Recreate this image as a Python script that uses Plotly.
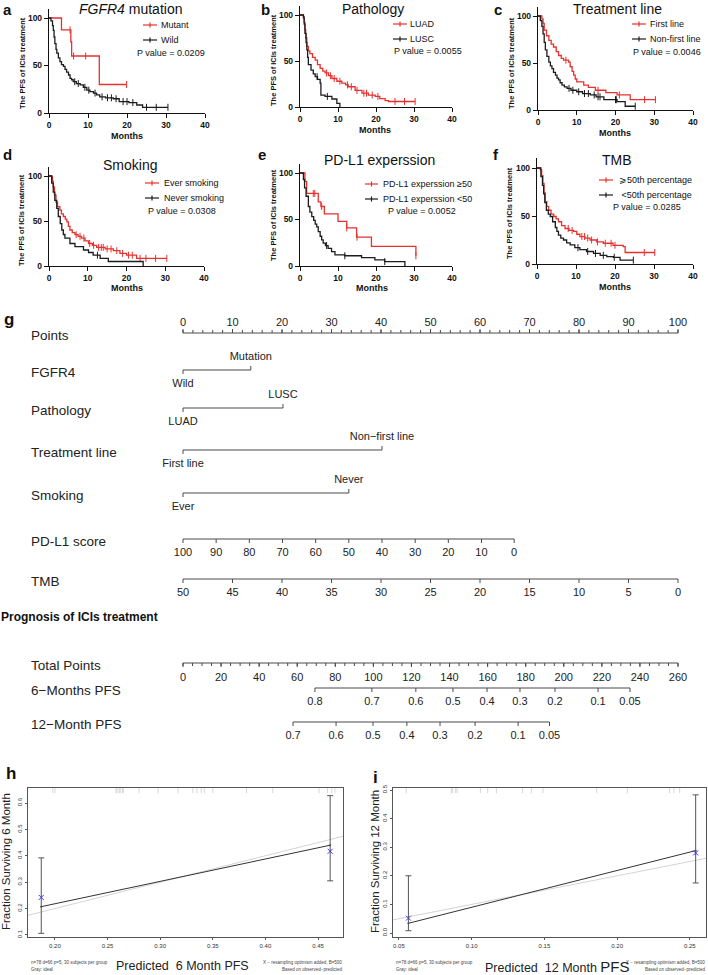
import plotly.graph_objects as go

W, H = 708, 975
RED = "#e8312f"
BLK = "#1c1c1c"
FONT = "Liberation Sans, Arial, sans-serif"
NARROW = "Liberation Sans Narrow, Arial Narrow, Liberation Sans, Arial, sans-serif"

# ---------------- Kaplan-Meier data (months, % PFS) ----------------
# a: FGFR4 mutation
a_mut_t = [0, 3.2, 5.6, 5.8, 12.9]
a_mut_s = [100, 87.5, 75, 60, 30]
a_mut_end = 19.9
a_mut_cens = [5.4, 6.3, 9.4, 19.9]
a_wild_t = [0, 0.5, 0.9, 1.1, 1.3, 1.5, 1.8, 2.0, 2.4, 2.8, 3.2, 3.7, 4.1, 4.5, 5.0, 5.4, 5.8, 6.2,
            7.0, 8.0, 8.8, 9.7, 10.5, 11.4, 12.2, 13.0, 14.5, 16.5, 18.0, 20.5, 22.5, 24.0]
a_wild_s = [100, 97, 92, 87, 80, 73, 67, 63, 58, 54, 51, 49, 46, 43, 40, 36.5, 35, 33,
            31, 29.5, 27, 24, 22.5, 21, 19, 17, 16, 15, 12, 11, 8.4, 6]
a_wild_end = 30.5
a_wild_cens = [6.6, 7.5, 9.2, 10.2, 11.8, 13.6, 15, 16, 17.2, 19, 20, 21.5, 25, 27.5, 30.5]

# b: Pathology
b_luad_t = [0, 0.9, 1.1, 1.3, 1.5, 1.8, 2.2, 2.6, 3.3, 4.0, 4.6, 5.3, 6.0, 6.6, 7.5, 8.4, 9.7,
            11.0, 12.0, 12.7, 14.5, 16.3, 18.0, 19.8, 21.0, 22.4, 23.3]
b_luad_s = [100, 96, 92, 84, 75, 66, 61, 58, 54, 51, 46, 42, 39, 37, 34, 31, 28,
            26, 24, 22, 18, 15, 13, 11.5, 9, 7, 6]
b_luad_end = 30.3
b_luad_cens = [7, 8, 9, 10.5, 12.5, 13.5, 15, 16.8, 17.5, 19, 20.5, 25, 27.5, 30.3]
b_lusc_t = [0, 0.9, 1.1, 1.3, 1.6, 1.8, 2.0, 2.2, 2.9, 3.5, 4.0, 4.6, 5.3, 5.5, 6.6, 8.4, 9.7, 10.5]
b_lusc_s = [100, 98, 90, 80, 70, 62, 54, 46, 40, 36, 33, 30, 26, 13, 11.5, 8.7, 4, 0]
b_lusc_end = 10.5
b_lusc_cens = [4.5, 7.2]

# c: Treatment line
c_first_t = [0, 1.0, 1.3, 1.6, 2.2, 2.8, 3.4, 4.0, 4.7, 5.3, 6.0, 6.6, 7.9, 8.3, 8.8, 9.2, 9.6,
             10.0, 11.8, 13.0, 14.8, 17.5, 20.4, 23.8]
c_first_s = [100, 97, 92, 85, 79, 74, 70, 67, 62, 58, 55, 53, 51, 46, 41, 37, 33,
             30, 26.5, 24, 21, 18.5, 16, 11]
c_first_end = 30.3
c_first_cens = [7.2, 15.5, 21, 27.5, 30.3]
c_non_t = [0, 0.6, 1.0, 1.3, 1.6, 1.9, 2.3, 2.8, 3.2, 3.6, 4.0, 4.5, 4.9, 5.3, 5.7, 6.2, 6.8,
           7.5, 8.5, 10.0, 11.5, 13.5, 15.0, 17.0, 20.4, 22.5]
c_non_s = [100, 95, 89, 81, 72, 64, 57, 51, 47, 44, 40, 37, 34, 32, 29, 26.5, 24.5,
           23, 21, 19.4, 17.5, 16, 14, 11, 9, 4]
c_non_end = 25.1
c_non_cens = [8, 9, 10.5, 12, 13, 14.5, 15.5, 16, 20, 20.2, 25.1]

# d: Smoking
d_ever_t = [0, 0.7, 0.9, 1.1, 1.4, 1.8, 2.2, 2.8, 3.2, 3.7, 4.2, 4.6, 5.0, 5.4, 6.0, 6.7, 7.5,
            8.4, 9.3, 10.2, 11.2, 12.3, 14.5, 16.6, 18.3, 20.0, 22.6]
d_ever_s = [100, 99, 94, 88, 79, 71, 66, 62, 58, 55, 52, 49, 44, 40, 37, 34.8, 33,
            31, 28, 25, 23, 20.7, 19, 17, 14, 12, 8.5]
d_ever_end = 30.4
d_ever_cens = [7, 8, 9, 10.5, 11.5, 12.8, 13.5, 14, 15, 16, 17.5, 19, 20.5, 21.5, 23.5, 25, 27.5, 30.4]
d_never_t = [0, 0.7, 1.1, 1.5, 2.0, 2.4, 2.9, 3.3, 3.7, 4.1, 5.4, 6.7, 8.9, 10.2, 11.4, 13.2, 15.3, 24.3]
d_never_s = [100, 92, 82, 73, 64, 55, 47, 40, 35, 31, 25, 21.5, 17.8, 15, 12, 8.5, 5, 0]
d_never_end = 24.3
d_never_cens = [12.5]

# e: PD-L1 expression
e_hi_t = [0, 1.3, 1.75, 4.8, 5.5, 6.4, 10.0, 12.3, 14.9, 18.8, 30.5]
e_hi_s = [100, 91, 78, 69, 64, 56, 48, 41, 31, 21, 11]
e_hi_end = 30.5
e_hi_cens = [3.5, 3.9, 5.7, 12.3, 15.0, 30.5]
e_lo_t = [0, 0.9, 1.2, 1.6, 2.2, 2.6, 3.1, 3.6, 4.0, 4.4, 4.8, 5.3, 5.7, 6.1, 6.7, 7.4, 8.3,
          9.2, 11.8, 16.2, 19.7, 22.3, 27.6]
e_lo_s = [100, 93, 84, 75, 64, 58, 53, 49, 45, 42, 37, 32, 28, 24.5, 22, 19, 15.5,
          12, 11, 9, 6.5, 4.7, 0]
e_lo_end = 27.6
e_lo_cens = [7.0, 11.8, 22.3]

# f: TMB
f_hi_t = [0, 0.85, 1.2, 1.5, 1.8, 2.1, 2.5, 3.0, 3.6, 4.3, 4.9, 5.5, 6.3, 7.2, 8.2, 9.4, 10.2,
          11.0, 12.3, 13.6, 15.3, 17.0, 19.5, 22.1, 22.6]
f_hi_s = [100, 98, 92, 84, 74, 65, 60, 56, 52, 49.5, 47, 44, 40, 37, 35, 34, 31,
          28.6, 27, 25, 23, 21.6, 19.5, 18, 12]
f_hi_end = 30.2
f_hi_cens = [8, 9, 11.5, 12.2, 13, 14, 15.5, 17.5, 19, 20, 27.5, 30.2]
f_lo_t = [0, 1.0, 1.4, 1.7, 2.0, 2.4, 2.9, 3.4, 4.0, 4.7, 5.1, 5.5, 6.1, 6.8, 7.6, 8.5, 9.7,
          11.0, 12.7, 14.5, 16.2, 17.9, 19.6, 21.3]
f_lo_s = [100, 91, 82, 73, 64, 56, 52, 49.5, 44, 38, 34, 30, 27, 25, 22, 20, 17,
          15, 13, 11, 9, 7.7, 7, 4]
f_lo_end = 24.7
f_lo_cens = [10.5, 13, 15, 17, 19.8, 24.7]

km_xticks = [0, 10, 20, 30, 40]
km_yticks = [0, 50, 100]

# ---------------- nomogram ----------------
points_major = [0, 10, 20, 30, 40, 50, 60, 70, 80, 90, 100]
points_minor = list(range(0, 101, 2))
fgfr4_levels = ["Wild", "Mutation"]
fgfr4_points = [0, 13.7]
pathology_levels = ["LUAD", "LUSC"]
pathology_points = [0, 20.2]
treatment_levels = ["First line", "Non\u2212first line"]
treatment_points = [0, 40.2]
smoking_levels = ["Ever", "Never"]
smoking_points = [0, 33.5]
pdl1_labels = ["100", "90", "80", "70", "60", "50", "40", "30", "20", "10", "0"]
pdl1_points = [0, 6.7, 13.4, 20.1, 26.8, 33.5, 40.2, 46.9, 53.6, 60.3, 66.9]
tmb_labels = ["50", "45", "40", "35", "30", "25", "20", "15", "10", "5", "0"]
tmb_points = [0, 10, 20, 30, 40, 50, 60, 70, 80, 90, 100]
total_major = [0, 20, 40, 60, 80, 100, 120, 140, 160, 180, 200, 220, 240, 260]
total_minor = list(range(0, 261, 5))
pfs6_labels = ["0.8", "0.7", "0.6", "0.5", "0.4", "0.3", "0.2", "0.1", "0.05"]
pfs6_points = [69.3, 99.2, 122.3, 141.8, 159.7, 177.0, 195.4, 218.0, 234.8]
pfs12_labels = ["0.7", "0.6", "0.5", "0.4", "0.3", "0.2", "0.1", "0.05"]
pfs12_points = [57.8, 80.4, 99.8, 117.6, 135.0, 153.4, 176.0, 192.5]

# ---------------- calibration ----------------
h_pred = [0.187, 0.4615]
h_km = [0.207, 0.440]
h_obs = [0.242, 0.417]
h_lo = [0.106, 0.305]
h_hi = [0.392, 0.628]
h_rug = [0.198, 0.200, 0.258, 0.259, 0.261, 0.262, 0.264, 0.265, 0.280, 0.298, 0.317, 0.331,
         0.335, 0.339, 0.342, 0.350, 0.382, 0.407, 0.451, 0.459, 0.463, 0.466]
i_pred = [0.0565, 0.254]
i_km = [0.034, 0.288]
i_obs = [0.052, 0.280]
i_lo = [0.008, 0.175]
i_hi = [0.200, 0.483]
i_rug = [0.055, 0.086, 0.087, 0.089, 0.090, 0.106, 0.111, 0.117, 0.135, 0.141, 0.149,
         0.186, 0.207, 0.236, 0.239, 0.243]
ideal_line = [0.0, 0.6]


def px(x):
    return x / W


def py(y):
    return 1 - y / H


fig = go.Figure()
annotations = []
shapes = []


def text(x, y, s, size, anchor="center", bold=False, family=FONT, angle=0, color="#111"):
    annotations.append(dict(
        x=px(x), y=py(y), xref="paper", yref="paper", text=s, showarrow=False,
        xanchor=anchor, yanchor="middle", textangle=angle, borderpad=0,
        font=dict(size=size, family=family, color=color, weight="bold" if bold else "normal")))


def step_at(t, s, x):
    v = s[0]
    for ti, si in zip(t, s):
        if ti <= x:
            v = si
    return v


def km_curve(n, t, s, end, cens, color):
    xa = "x" if n == 1 else f"x{n}"
    ya = "y" if n == 1 else f"y{n}"
    fig.add_trace(go.Scatter(x=t + [end], y=s + [s[-1]], mode="lines", xaxis=xa, yaxis=ya,
                             line=dict(color=color, width=1.3, shape="hv"),
                             hoverinfo="skip", showlegend=False))
    fig.add_trace(go.Scatter(x=cens, y=[step_at(t, s, c) for c in cens], mode="markers",
                             xaxis=xa, yaxis=ya,
                             marker=dict(symbol="line-ns", size=5, line=dict(color=color, width=1)),
                             hoverinfo="skip", showlegend=False))


def legend_item(x0, x1, y, color, label, xt):
    shapes.append(dict(type="line", xref="paper", yref="paper", x0=px(x0), x1=px(x1),
                       y0=py(y), y1=py(y), line=dict(color=color, width=1.2)))
    xm = (x0 + x1) / 2
    shapes.append(dict(type="line", xref="paper", yref="paper", x0=px(xm), x1=px(xm),
                       y0=py(y - 2.5), y1=py(y + 2.5), line=dict(color=color, width=1.2)))
    text(xt, y, label, 9, anchor="left")


panels = [
    dict(n=1, x0=49, x1=205, y0=113, y100=18, letter=("a", 7, 10), title=("<i>FGFR4</i> mutation", 130, 9),
         months=(127, 136), ytitle=(22, 63), leg=(143, 157, 160, 25), pval=(136, 53, "P value = 0.0209"),
         curves=[("Mutant", RED, a_mut_t, a_mut_s, a_mut_end, a_mut_cens),
                 ("Wild", BLK, a_wild_t, a_wild_s, a_wild_end, a_wild_cens)]),
    dict(n=2, x0=300, x1=452, y0=107, y100=15, letter=("b", 265, 10), title=("Pathology", 373, 9),
         months=(375, 130), ytitle=(273, 60), leg=(393, 407, 409, 24), pval=(393, 51, "P value = 0.0055"),
         curves=[("LUAD", RED, b_luad_t, b_luad_s, b_luad_end, b_luad_cens),
                 ("LUSC", BLK, b_lusc_t, b_lusc_s, b_lusc_end, b_lusc_cens)]),
    dict(n=3, x0=538, x1=693, y0=110, y100=16, letter=("c", 498, 10), title=("Treatment line", 617, 9),
         months=(615, 133), ytitle=(511, 63), leg=(632, 646, 649, 24), pval=(632, 52, "P value = 0.0046"),
         curves=[("First line", RED, c_first_t, c_first_s, c_first_end, c_first_cens),
                 ("Non-first line", BLK, c_non_t, c_non_s, c_non_end, c_non_cens)]),
    dict(n=4, x0=49, x1=204, y0=266, y100=176, letter=("d", 7, 154), title=("Smoking", 130, 165),
         months=(127, 288), ytitle=(22, 220), leg=(145, 159, 163, 183), pval=(147, 211, "P value = 0.0308"),
         curves=[("Ever smoking", RED, d_ever_t, d_ever_s, d_ever_end, d_ever_cens),
                 ("Never smoking", BLK, d_never_t, d_never_s, d_never_end, d_never_cens)]),
    dict(n=5, x0=300, x1=452, y0=266, y100=173, letter=("e", 262, 154), title=("PD-L1 experssion", 379, 160),
         months=(372, 288), ytitle=(273, 215), leg=(365, 378, 382, 184), pval=(387, 211, "P value = 0.0052"),
         curves=[("PD-L1 experssion \u226550", RED, e_hi_t, e_hi_s, e_hi_end, e_hi_cens),
                 ("PD-L1 experssion <50", BLK, e_lo_t, e_lo_s, e_lo_end, e_lo_cens)]),
    dict(n=6, x0=537, x1=693, y0=264, y100=168, letter=("f", 496, 154), title=("TMB", 617, 160),
         months=(615, 287), ytitle=(509, 213), leg=(599, 613, 618, 180), pval=(612, 207, "P value = 0.0285"),
         curves=[("\u2a7e50th percentage", RED, f_hi_t, f_hi_s, f_hi_end, f_hi_cens),
                 (" <50th percentage", BLK, f_lo_t, f_lo_s, f_lo_end, f_lo_cens)]),
]

layout_axes = {}
for p in panels:
    n = p["n"]
    top = p["y0"] - 1.10 * (p["y0"] - p["y100"])
    sfx = "" if n == 1 else str(n)
    axis_common = dict(showline=True, linecolor="#111", linewidth=1.4, ticks="outside", ticklen=4,
                       tickwidth=1.4, tickcolor="#111", showgrid=False, zeroline=False,
                       tickfont=dict(size=8.5, family=FONT, color="#111", weight="bold"))
    layout_axes["xaxis" + sfx] = dict(domain=[px(p["x0"]), px(p["x1"])], range=[0, 40],
                                      tickvals=km_xticks, anchor="y" + sfx, **axis_common)
    layout_axes["yaxis" + sfx] = dict(domain=[py(p["y0"]), py(top)], range=[0, 110],
                                      tickvals=km_yticks, anchor="x" + sfx, **axis_common)
    for label, color, t, s, end, cens in p["curves"]:
        km_curve(n, t, s, end, cens, color)
    lx0, lx1, lxt, ly = p["leg"]
    for k, (label, color, *_rest) in enumerate(p["curves"]):
        legend_item(lx0, lx1, ly + 15 * k, color, label, lxt)
    text(p["pval"][0], p["pval"][1], p["pval"][2], 9, anchor="left")
    text(p["letter"][1], p["letter"][2], p["letter"][0], 15, bold=True)
    text(p["title"][1], p["title"][2], p["title"][0], 14)
    text(p["months"][0], p["months"][1], "Months", 9, bold=True)
    text(p["ytitle"][0], p["ytitle"][1], "The PFS of ICIs treatment", 7.5, bold=True, angle=-90)

# ---------------- nomogram on pixel-row overlay axes ----------------
PT0, PT100 = 183, 678          # pixel positions of 0 and 100 points
pp = (PT100 - PT0) / 100.0
tp = (PT100 - PT0) / 260.0
layout_axes["xaxis7"] = dict(domain=[0, 1], range=[-PT0 / pp, (W - PT0) / pp], visible=False,
                             anchor="y7", fixedrange=True)
layout_axes["xaxis8"] = dict(domain=[0, 1], range=[-PT0 / tp, (W - PT0) / tp], visible=False,
                             anchor="y7", overlaying="x7", fixedrange=True)
layout_axes["yaxis7"] = dict(domain=[0, 1], range=[H, 0], visible=False, anchor="x7", fixedrange=True)

rows = {"Points": 333, "FGFR4": 370, "Pathology": 408, "Treatment line": 450, "Smoking": 493,
        "PD-L1 score": 539, "TMB": 579, "Total Points": 663, "6\u2212Months PFS": 688,
        "12\u2212Month PFS": 722}
NCOL = "#4a4a4a"


def nline(xa, x0, x1, y):
    fig.add_trace(go.Scatter(x=[x0, x1], y=[y, y], xaxis=xa, yaxis="y7", mode="lines",
                             line=dict(color=NCOL, width=1.1), hoverinfo="skip", showlegend=False))


def nticks(xa, vals, y, length):
    xs, ys = [], []
    for v in vals:
        xs += [v, v, None]
        ys += [y, y + length, None]
    fig.add_trace(go.Scatter(x=xs, y=ys, xaxis=xa, yaxis="y7", mode="lines",
                             line=dict(color=NCOL, width=1), hoverinfo="skip", showlegend=False))


def nlabels(xa, vals, y, labels, size=11):
    fig.add_trace(go.Scatter(x=vals, y=[y] * len(vals), text=labels, mode="text", xaxis=xa,
                             yaxis="y7", textfont=dict(family=NARROW, size=size, color="#222"),
                             hoverinfo="skip", showlegend=False))


# Points
y = rows["Points"]
nline("x7", 0, 100, y)
nticks("x7", points_minor, y, -3)
nticks("x7", points_major, y, -4)
nlabels("x7", points_major, y - 10, [str(v) for v in points_major])

# categorical predictors
for name, lv, pts in [("FGFR4", fgfr4_levels, fgfr4_points),
                      ("Pathology", pathology_levels, pathology_points),
                      ("Treatment line", treatment_levels, treatment_points),
                      ("Smoking", smoking_levels, smoking_points)]:
    y = rows[name]
    nline("x7", pts[0], pts[1], y)
    nticks("x7", [pts[0]], y, 4)
    nticks("x7", [pts[1]], y, -4)
    nlabels("x7", [pts[0]], y + 14, [lv[0]])
    nlabels("x7", [pts[1]], y - 13, [lv[1]])

# continuous predictors
for name, pts, labs, xa in [("PD-L1 score", pdl1_points, pdl1_labels, "x7"),
                            ("TMB", tmb_points, tmb_labels, "x7"),
                            ("6\u2212Months PFS", pfs6_points, pfs6_labels, "x8"),
                            ("12\u2212Month PFS", pfs12_points, pfs12_labels, "x8")]:
    y = rows[name]
    nline(xa, min(pts), max(pts), y)
    nticks(xa, pts, y, 4)
    nlabels(xa, pts, y + 14, labs)

# Total points
y = rows["Total Points"]
nline("x8", 0, 260, y)
nticks("x8", total_minor, y, 3)
nticks("x8", total_major, y, 4)
nlabels("x8", total_major, y + 15, [str(v) for v in total_major])

for name, yy in rows.items():
    text(30, yy + 2, name, 13.5, anchor="left", family=NARROW, color="#222")
text(9, 320, "g", 17, bold=True)
text(0, 617, "Prognosis of ICIs treatment", 12, anchor="left", bold=True, family=NARROW)

# ---------------- calibration panels ----------------
cal = [
    dict(n=9, x0=28, x1=343, xr=[0.1744, 0.4737], yr=[0.092, 0.657],
         xt=[0.20, 0.25, 0.30, 0.35, 0.40, 0.45], yt=[0.1, 0.2, 0.3, 0.4, 0.5, 0.6],
         pred=h_pred, km=h_km, obs=h_obs, lo=h_lo, hi=h_hi, rug=h_rug,
         letter=("h", 11, 773), ytitle="Fraction Surviving 6 Month", ytx=6,
         xtitle="Predicted  6 Month PFS", xtx=182),
    dict(n=10, x0=393, x1=706, xr=[0.0459, 0.2611], yr=[-0.014, 0.507],
         xt=[0.05, 0.10, 0.15, 0.20, 0.25], yt=[0.0, 0.1, 0.2, 0.3, 0.4, 0.5],
         pred=i_pred, km=i_km, obs=i_obs, lo=i_lo, hi=i_hi, rug=i_rug,
         letter=("i", 375, 777), ytitle="Fraction Surviving 12 Month", ytx=375,
         xtitle="Predicted  12 Month <span style='font-size:15px'>PFS</span>", xtx=557),
]
for c in cal:
    n = c["n"]
    xa, ya = f"x{n}", f"y{n}"
    frame = dict(showline=True, mirror=True, linecolor="#555", linewidth=0.9, ticks="outside",
                 ticklen=2.5, tickwidth=0.8, tickcolor="#555", showgrid=False, zeroline=False,
                 tickfont=dict(size=6, family=FONT, color="#333"))
    layout_axes[f"xaxis{n}"] = dict(domain=[px(c["x0"]), px(c["x1"])], range=c["xr"], tickvals=c["xt"],
                                    tickformat=".2f", anchor=ya, **frame)
    layout_axes[f"yaxis{n}"] = dict(domain=[py(937), py(788)], range=c["yr"], tickvals=c["yt"],
                                    tickformat=".1f", tickangle=-90, anchor=xa, **frame)
    fig.add_trace(go.Scatter(x=ideal_line, y=ideal_line, mode="lines", xaxis=xa, yaxis=ya,
                             line=dict(color="#d4d4d4", width=1), hoverinfo="skip", showlegend=False))
    fig.add_trace(go.Scatter(x=c["pred"], y=c["km"], mode="lines+markers", xaxis=xa, yaxis=ya,
                             line=dict(color="#333", width=1), marker=dict(size=2, color="#333"),
                             hoverinfo="skip", showlegend=False))
    fig.add_trace(go.Scatter(
        x=c["pred"], y=c["obs"], mode="markers", xaxis=xa, yaxis=ya,
        marker=dict(symbol="x-thin", size=5, line=dict(color="#3a3aee", width=1)),
        error_y=dict(type="data", symmetric=False,
                     array=[h - o for h, o in zip(c["hi"], c["obs"])],
                     arrayminus=[o - l for o, l in zip(c["obs"], c["lo"])],
                     color="#555", thickness=1, width=3),
        hoverinfo="skip", showlegend=False))
    for r in c["rug"]:
        shapes.append(dict(type="line", xref=xa, yref=f"{ya} domain", x0=r, x1=r, y0=0.965, y1=1.0,
                           line=dict(color="#bdbdbd", width=0.6)))
    text(c["letter"][1], c["letter"][2], c["letter"][0], 17, bold=True)
    text(c["ytx"], 862, c["ytitle"], 11.5, angle=-90, family=NARROW, color="#222")
    text(c["xtx"], 966, c["xtitle"], 12.5, family=NARROW, color="#222")
    text(c["x0"] + 2, 962, "n=78 d=66 p=5, 30 subjects per group", 4.5, anchor="left", color="#444")
    text(c["x0"] + 2, 969, "Gray: ideal", 4.5, anchor="left", color="#444")
    text(c["x1"], 962, "X \u2212 resampling optimism added, B=500", 4.5, anchor="right", color="#444")
    text(c["x1"], 969, "Based on observed\u2212predicted", 4.5, anchor="right", color="#444")

fig.update_layout(
    width=W, height=H, margin=dict(l=0, r=0, t=0, b=0),
    template="none", paper_bgcolor="white", plot_bgcolor="rgba(0,0,0,0)",
    font=dict(family=FONT, color="#111"),
    showlegend=False, annotations=annotations, shapes=shapes,
    **layout_axes,
)

# the page body has a default 8px margin; remove it so the figure fills the window
fig.write_html("out.html", config={"displayModeBar": False},
               post_script="document.body.style.margin='0px';")
